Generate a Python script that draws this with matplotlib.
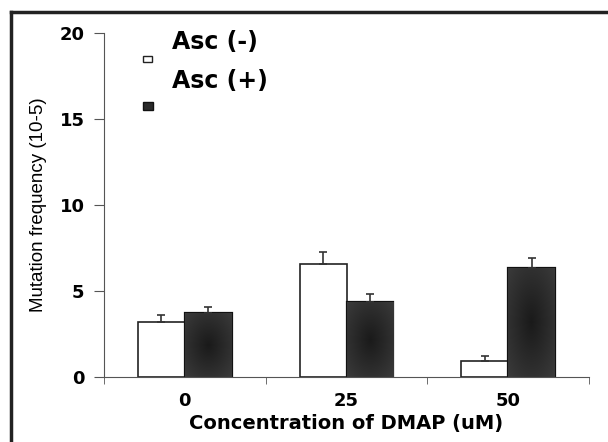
import numpy as np
import matplotlib
matplotlib.use("Agg")
import matplotlib.pyplot as plt
from matplotlib.patches import Rectangle
from matplotlib.lines import Line2D
from matplotlib.colors import LinearSegmentedColormap

plt.rcParams['font.family'] = ['DejaVu Sans']

categories = ['0', '25', '50']
asc_minus = [3.2, 6.55, 0.93]
asc_minus_err = [0.4, 0.7, 0.3]
asc_plus = [3.7, 4.35, 6.35]
asc_plus_err = [0.4, 0.5, 0.6]

fig = plt.figure(figsize=(6.08, 4.42), dpi=100)
ax = fig.add_axes([0.171, 0.147, 0.798, 0.778])

x = np.arange(len(categories))
w = 0.29
err_kw = dict(ecolor='#333333', elinewidth=1.2, capsize=3, capthick=1.2)
ax.bar(x - w / 2, asc_minus, w, color='white', edgecolor='#222222', linewidth=1.2,
       yerr=[np.zeros(3), asc_minus_err], error_kw=err_kw)
dark = ax.bar(x + w / 2, asc_plus, w, color='#2a2a2a', edgecolor='#111111', linewidth=1.6,
              yerr=[np.zeros(3), asc_plus_err], error_kw=err_kw)

# soft radial shading inside the dark bars
shade_cmap = LinearSegmentedColormap.from_list('shade', ['#1a1a1a', '#3a3a3a'])
yy, xx = np.mgrid[-1:1:60j, -1:1:60j]
shade = np.sqrt(xx ** 2 + yy ** 2)
for b in dark:
    im = ax.imshow(shade, cmap=shade_cmap, vmin=0, vmax=1.4, aspect='auto', interpolation='bilinear',
                   extent=[b.get_x(), b.get_x() + b.get_width(), 0, b.get_height()], zorder=1.5)
    im.set_clip_path(b)

ax.set_xlim(-0.5, 2.5)
ax.set_ylim(0, 20)
ax.set_yticks([0, 5, 10, 15, 20])
ax.set_xticks(x)
ax.set_xticklabels(categories)
ax.set_xticks([-0.5, 0.5, 1.5, 2.5], minor=True)
ax.tick_params(axis='x', which='major', length=0, pad=11, labelsize=13)
ax.tick_params(axis='x', which='minor', length=5, color='#555555')
ax.tick_params(axis='y', length=7, color='#555555', labelsize=13, pad=7)
for lab in ax.get_xticklabels() + ax.get_yticklabels():
    lab.set_fontweight('bold')
for s in ['top', 'right']:
    ax.spines[s].set_visible(False)
ax.spines['left'].set_color('#555555')
ax.spines['bottom'].set_color('#555555')

ax.set_xlabel('Concentration of DMAP (uM)', fontsize=14, fontweight='bold', labelpad=3)
ax.set_ylabel('Mutation frequency (10-5)', fontsize=13.5, labelpad=9,
              family=['Liberation Sans', 'DejaVu Sans'])

# legend drawn by hand: marker under the text
fig.patches.append(Rectangle((143 / 608, 1 - 62 / 442), 9 / 608, 6 / 442, transform=fig.transFigure,
                             facecolor='white', edgecolor='#222222', linewidth=1))
fig.patches.append(Rectangle((143 / 608, 1 - 110 / 442), 10 / 608, 8 / 442, transform=fig.transFigure,
                             facecolor='#2a2a2a', edgecolor='#111111', linewidth=1))
fig.text(172 / 608, 1 - 42 / 442, 'Asc (-)', fontsize=17, fontweight='bold', va='center')
fig.text(172 / 608, 1 - 81 / 442, 'Asc (+)', fontsize=17, fontweight='bold', va='center')

# outer frame (left and top edges visible)
fig.lines.append(Line2D([11 / 608, 11 / 608], [0, 1 - 12 / 442], transform=fig.transFigure, color='#222222', lw=2.5))
fig.lines.append(Line2D([11 / 608, 1], [1 - 12 / 442, 1 - 12 / 442], transform=fig.transFigure, color='#222222', lw=2.5))

fig.savefig('out.png', dpi=100)
